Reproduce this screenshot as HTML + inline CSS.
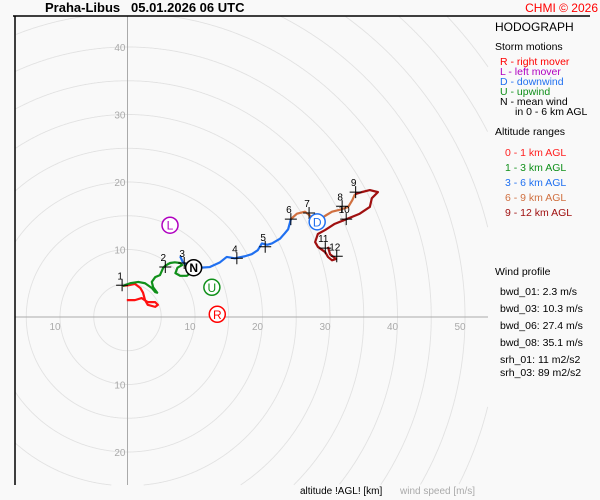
<!DOCTYPE html>
<html><head><meta charset="utf-8"><style>
html,body{margin:0;padding:0;width:600px;height:500px;overflow:hidden;background:#f9f9f9;}
svg{display:block;font-family:"Liberation Sans",sans-serif;}
</style></head><body>
<svg id="c" width="600" height="500" viewBox="0 0 600 500">
<rect width="600" height="500" fill="#f9f9f9"/>
<g id="rings"></g>
<g id="axes"></g>
<line x1="15" y1="16" x2="15" y2="485" stroke="#000" stroke-width="1.5"/>
<line x1="13" y1="16" x2="590" y2="16" stroke="#000" stroke-width="1.5"/>
<g id="series"></g>
<g id="marks"></g>
<g id="storm"></g>
<text x="45" y="12" font-size="13" font-weight="bold">Praha-Libus</text>
<text x="131" y="12" font-size="13" font-weight="bold">05.01.2026 06 UTC</text>
<text x="598" y="12" font-size="12" fill="#ff0000" text-anchor="end">CHMI © 2026</text>
<g font-size="10.5">
<text x="495" y="31" font-size="12">HODOGRAPH</text>
<text x="495" y="50">Storm motions</text>
<text x="500" y="65" fill="#ff0000">R - right mover</text>
<text x="500" y="75" fill="#b000c0">L - left mover</text>
<text x="500" y="85" fill="#2070f0">D - downwind</text>
<text x="500" y="95" fill="#10901a">U - upwind</text>
<text x="500" y="105">N - mean wind</text>
<text x="515" y="115">in 0 - 6 km AGL</text>
<text x="495" y="135">Altitude ranges</text>
<text x="505" y="156" fill="#ff2020">0 - 1 km AGL</text>
<text x="505" y="171" fill="#10901a">1 - 3 km AGL</text>
<text x="505" y="186" fill="#2070f0">3 - 6 km AGL</text>
<text x="505" y="201" fill="#d07040">6 - 9 km AGL</text>
<text x="505" y="216" fill="#a01010">9 - 12 km AGL</text>
<text x="495" y="275">Wind profile</text>
<text x="500" y="295">bwd_01: 2.3 m/s</text>
<text x="500" y="312">bwd_03: 10.3 m/s</text>
<text x="500" y="329">bwd_06: 27.4 m/s</text>
<text x="500" y="346">bwd_08: 35.1 m/s</text>
<text x="500" y="363">srh_01: 11 m2/s2</text>
<text x="500" y="376">srh_03: 89 m2/s2</text>
</g>
<text x="300" y="494" font-size="10">altitude !AGL! [km]</text>
<text x="400" y="494" font-size="10" fill="#aaa">wind speed [m/s]</text>
</svg>
<script>
const ringRadii=[5,10,15,20,25,30,35,40,45,50,55,60,65,70];
const xTicks=[-10,10,20,30,40,50];
const yTicks=[40,30,20,10,-10,-20];
const seg01=[[-0.1,2.5],[1.1,2.5],[2.1,2.8],[3.0,2.2],[4.1,2.2],[4.5,1.8],[4.1,1.5],[3.0,1.8],[2.6,2.5],[2.3,3.6],[1.9,4.3],[1.1,4.9],[0.1,4.7],[-0.7,4.6]];
const seg13=[[-0.7,4.6],[0.4,5.0],[1.6,5.2],[2.6,5.0],[3.6,4.3],[4.1,3.7],[4.4,3.6],[3.8,4.4],[3.6,5.2],[4.1,5.9],[4.8,6.2],[5.3,7.3],[5.6,7.6],[6.3,8.0],[7.0,8.1],[7.8,8.0],[8.1,7.7],[7.4,7.3],[7.1,6.5],[7.8,6.1],[8.8,6.1],[9.3,6.5],[8.6,7.6],[8.4,8.0]];
const seg36=[[7.8,9.0],[8.2,8.1],[9.3,7.5],[10.7,7.3],[12.2,7.4],[13.7,8.1],[14.7,8.9],[15.9,8.7],[17.4,9.0],[18.4,9.3],[19.3,9.9],[19.9,10.9],[20.7,10.7],[21.4,10.9],[22.6,11.6],[23.3,12.4],[23.8,13.0],[24.1,14.1],[24.2,14.5]];
const seg69=[[24.2,14.5],[25.1,15.3],[26.3,15.6],[27.3,14.8],[28.2,14.2],[29.3,15.0],[30.3,15.6],[31.5,15.9],[32.7,16.3],[33.3,17.3],[33.7,18.2]];
const seg912=[[33.7,18.2],[34.7,18.5],[35.9,18.8],[37.1,18.5],[36.2,17.6],[35.9,16.3],[34.4,15.3],[32.2,14.4],[30.7,13.8],[29.3,12.9],[28.2,12.3],[27.8,11.1],[28.2,10.4],[29.3,9.6],[29.7,8.9],[30.3,8.4],[30.9,8.6],[30.0,9.3],[29.7,10.4]];
const altLabels=['1','2','3','4','5','6','7','8','9','10','11','12'];
const altU=[-0.8,5.6,8.4,16.2,20.4,24.2,26.9,31.8,33.8,32.4,29.3,31.0];
const altV=[4.7,7.4,8.0,8.7,10.4,14.5,15.4,16.4,18.5,14.5,10.2,9.0];
const stormLetters=['R','L','D','U','N'];
const stormU=[13.3,6.3,28.1,12.5,9.8];
const stormV=[0.4,13.6,14.1,4.4,7.3];
const stormColors=['#ff0000','#b000c0','#2070f0','#10901a','#000'];

const OX=127.5,OY=317,S=6.75;
const X0=15,X1=488,Y0=16,Y1=485;
const sx=u=>OX+u*S, sy=v=>OY-v*S;
const NS='http://www.w3.org/2000/svg';
function mk(tag,parent,attrs){const e=document.createElementNS(NS,tag);for(const k in attrs)e.setAttribute(k,attrs[k]);parent.appendChild(e);return e;}
const rings=document.getElementById('rings');
ringRadii.forEach(r=>{
  let d='',pen=false;
  for(let i=0;i<=1440;i++){const a=i/1440*2*Math.PI;const x=OX+r*S*Math.cos(a),y=OY+r*S*Math.sin(a);
    const inside=x>=X0&&x<=X1&&y>=Y0&&y<=Y1;
    if(inside){d+=(pen?'L':'M')+x.toFixed(1)+','+y.toFixed(1);pen=true;}else pen=false;}
  if(!d)return;
  const c=mk('path',rings,{d:d,fill:'none',stroke:'#e2e2e2','stroke-width':0.9});
  
  });
const axes=document.getElementById('axes');
let l=mk('line',axes,{x1:OX,y1:16,x2:OX,y2:485,stroke:'#aaa'});


l=mk('line',axes,{x1:15,y1:OY,x2:488,y2:OY,stroke:'#aaa'});


xTicks.forEach(t=>{const e=mk('text',axes,{x:sx(t)-5,y:OY+13,'font-size':10,fill:'#aaa','text-anchor':'middle'});e.textContent=Math.abs(t);

});
yTicks.forEach(t=>{const e=mk('text',axes,{x:OX-2,y:sy(t)+4,'font-size':10,fill:'#aaa','text-anchor':'end'});e.textContent=Math.abs(t);

});
const series=document.getElementById('series');
[[seg01,'#ff1010','trace-0-1km'],[seg13,'#10901a','trace-1-3km'],[seg36,'#2070f0','trace-3-6km'],[seg69,'#d07040','trace-6-9km'],[seg912,'#a01010','trace-9-12km']].forEach(([d,c,n])=>{
const p=mk('polyline',series,{points:d.map(q=>sx(q[0])+','+sy(q[1])).join(' '),fill:'none',stroke:c,'stroke-width':2.2,'stroke-linejoin':'round'});

});
const marks=document.getElementById('marks');
altLabels.forEach((lb,i)=>{const x=sx(altU[i]),y=sy(altV[i]);
const g=mk('g',marks,{});


mk('path',g,{d:`M${x-6},${y}H${x+6}M${x},${y-6}V${y+6}`,stroke:'#000','stroke-width':1});
const t=mk('text',g,{x:x-2,y:y-6,'font-size':10,'text-anchor':'middle'});t.textContent=lb;});
const storm=document.getElementById('storm');
stormLetters.forEach((s,i)=>{const x=sx(stormU[i]),y=sy(stormV[i]);
const g=mk('g',storm,{});


mk('circle',g,{cx:x,cy:y,r:8,fill:'#fff',stroke:stormColors[i],'stroke-width':1.5});
const t=mk('text',g,{x:x,y:y+4.5,'font-size':12,'text-anchor':'middle',fill:stormColors[i],'font-weight':s==='N'?'bold':'normal'});t.textContent=s;});
</script>
</body></html>
